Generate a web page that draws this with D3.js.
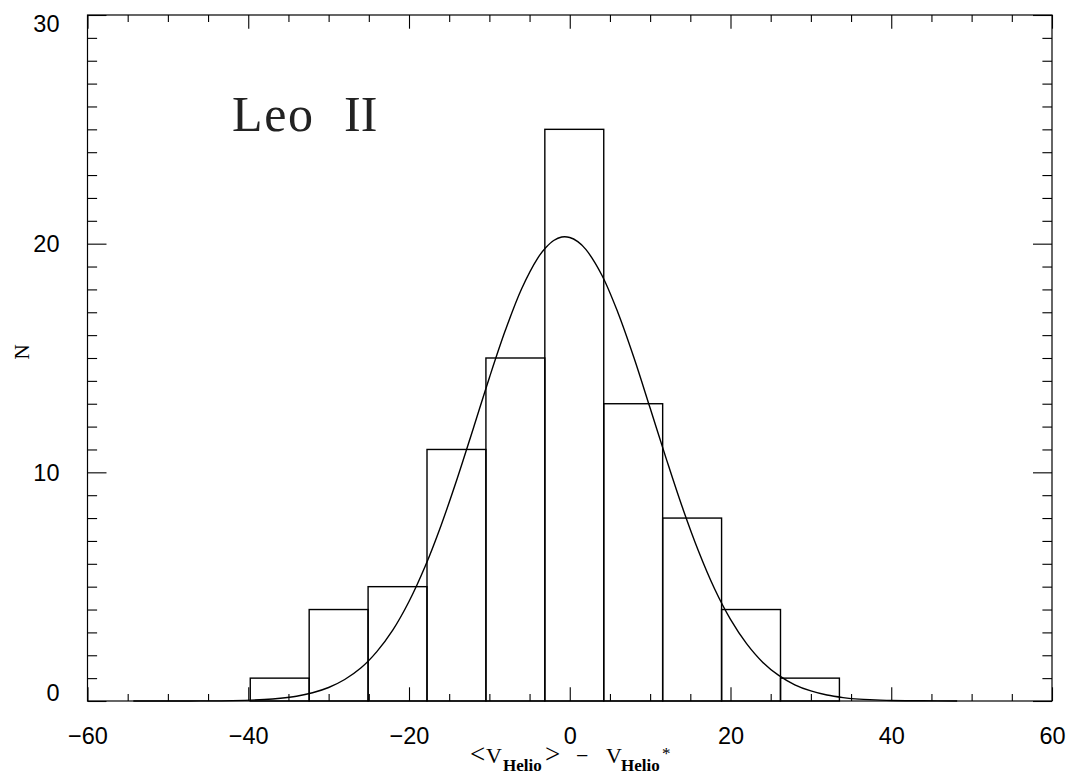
<!DOCTYPE html>
<html>
<head>
<meta charset="utf-8">
<script src="https://cdn.jsdelivr.net/npm/d3@7"></script>
<style>
  html, body { margin: 0; padding: 0; background: #fff; }
  svg { display: block; }
</style>
</head>
<body>
<div id="chart"></div>
<script>
// ---- Data ----
const binEdges = [-39.75, -32.42, -25.09, -17.76, -10.43, -3.10, 4.23, 11.56, 18.89, 26.22, 33.55];
const binCounts = [1, 4, 5, 11, 15, 25, 13, 8, 4, 1];

const fitX = [-54.3, -50, -46, -42, -38, -36, -34, -32, -30, -28, -26, -24, -22, -20, -18, -16, -14, -12, -10, -8, -6, -4, -3, -2, -1, 0, 1, 2, 4, 6, 8, 10, 12, 14, 16, 18, 20, 22, 24, 26, 28, 30, 32, 34, 36, 38, 40, 44, 48.2];
const fitN = [0.00, 0.00, 0.004, 0.018, 0.066, 0.12, 0.21, 0.36, 0.59, 0.94, 1.44, 2.16, 3.11, 4.35, 5.88, 7.69, 9.73, 11.92, 14.14, 16.22, 18.02, 19.36, 19.82, 20.14, 20.29, 20.27, 20.09, 19.75, 18.62, 16.98, 15.00, 12.81, 10.60, 8.48, 6.57, 4.92, 3.57, 2.51, 1.70, 1.12, 0.71, 0.44, 0.26, 0.15, 0.08, 0.05, 0.02, 0.01, 0.00];

const xMajorTicks = [-60, -40, -20, 0, 20, 40, 60];
const xTickLabels = ["\u221260", "\u221240", "\u221220", "0", "20", "40", "60"];
const yMajorTicks = [0, 10, 20, 30];
const yTickLabels = ["0", "10", "20", "30"];
const xDomain = [-60, 60];
const yDomain = [0, 30];
const titleWords = ["Leo", "II"];
const yLabel = "N";

// ---- Layout ----
const W = 1070, H = 776;
const L = 87.5, R = 1052, T = 15, B = 701;

const svg = d3.select("#chart").append("svg")
  .attr("width", W).attr("height", H)
  .style("background", "#fff");

const x = d3.scaleLinear().domain(xDomain).range([L, R]);
const y = d3.scaleLinear().domain(yDomain).range([B, T]);

const tickFont = "'Liberation Sans', 'DejaVu Sans', sans-serif";
const serifFont = "'Liberation Serif', 'DejaVu Serif', serif";

// Frame
svg.append("rect")
  .attr("x", L).attr("y", T).attr("width", R - L).attr("height", B - T)
  .attr("fill", "none").attr("stroke", "#000").attr("stroke-width", 1.2);

// Histogram bars
const bars = binCounts.map((c, i) => ({x0: binEdges[i], x1: binEdges[i + 1], n: c}));
svg.append("g").selectAll("rect").data(bars).join("rect")
  .attr("x", d => x(d.x0))
  .attr("y", d => y(d.n))
  .attr("width", d => x(d.x1) - x(d.x0))
  .attr("height", d => y(0) - y(d.n))
  .attr("fill", "none")
  .attr("stroke", "#000")
  .attr("stroke-width", 1.4);

// Gaussian fit curve
const fitPts = fitX.map((v, i) => [v, fitN[i]]);
svg.append("path")
  .datum(fitPts)
  .attr("d", d3.line().x(d => x(d[0])).y(d => y(d[1])).curve(d3.curveCatmullRom.alpha(0.5)))
  .attr("fill", "none")
  .attr("stroke", "#000")
  .attr("stroke-width", 1.4);

// Axes with ticks (IDL style: ticks inside on all four sides)
const xMinor = d3.range(xDomain[0], xDomain[1] + 0.001, 5).filter(v => !xMajorTicks.includes(v));
const yMinor = d3.range(yDomain[0], yDomain[1] + 0.001, 1).filter(v => !yMajorTicks.includes(v));

const xMajLen = 13.7, xMinLen = 6.9, yMajLen = 19, yMinLen = 9.6;

// bottom axis
const axB = d3.axisBottom(x).tickValues(xMajorTicks).tickSizeInner(-xMajLen).tickSizeOuter(0)
  .tickFormat((d, i) => xTickLabels[i]).tickPadding(xMajLen + 13);
const gB = svg.append("g").attr("transform", `translate(0,${B})`).call(axB);
gB.select(".domain").remove();
gB.selectAll("text").attr("font-family", tickFont).attr("font-size", 23.5).attr("fill", "#000");
gB.append("g").call(d3.axisBottom(x).tickValues(xMinor).tickSizeInner(-xMinLen).tickSizeOuter(0).tickFormat(""))
  .select(".domain").remove();

// top axis
const gT = svg.append("g").attr("transform", `translate(0,${T})`)
  .call(d3.axisTop(x).tickValues(xMajorTicks).tickSizeInner(-xMajLen).tickSizeOuter(0).tickFormat(""));
gT.select(".domain").remove();
gT.append("g").call(d3.axisTop(x).tickValues(xMinor).tickSizeInner(-xMinLen).tickSizeOuter(0).tickFormat(""))
  .select(".domain").remove();

// left axis
const axL = d3.axisLeft(y).tickValues(yMajorTicks).tickSizeInner(-yMajLen).tickSizeOuter(0)
  .tickFormat((d, i) => yTickLabels[i]).tickPadding(yMajLen + 9);
const gL = svg.append("g").attr("transform", `translate(${L},0)`).call(axL);
gL.select(".domain").remove();
gL.selectAll("text").attr("font-family", tickFont).attr("font-size", 23.5).attr("fill", "#000")
  .attr("dy", d => d === yDomain[0] ? "-0.02em" : (d === yDomain[1] ? "0.70em" : "0.34em"));
gL.append("g").call(d3.axisLeft(y).tickValues(yMinor).tickSizeInner(-yMinLen).tickSizeOuter(0).tickFormat(""))
  .select(".domain").remove();

// right axis
const gR = svg.append("g").attr("transform", `translate(${R},0)`)
  .call(d3.axisRight(y).tickValues(yMajorTicks).tickSizeInner(-yMajLen).tickSizeOuter(0).tickFormat(""));
gR.select(".domain").remove();
gR.append("g").call(d3.axisRight(y).tickValues(yMinor).tickSizeInner(-yMinLen).tickSizeOuter(0).tickFormat(""))
  .select(".domain").remove();

svg.selectAll(".tick line").attr("stroke", "#000").attr("stroke-width", 1.1);

// Title
const tt = svg.append("text")
  .attr("y", 131)
  .attr("font-family", serifFont).attr("font-size", 50)
  .attr("fill", "#222");
tt.append("tspan").attr("x", 232).attr("textLength", 81).attr("lengthAdjust", "spacing").text(titleWords[0]);
tt.append("tspan").attr("x", 344).text(titleWords[1]);

// Y label
svg.append("text")
  .attr("transform", "translate(29,352) rotate(-90)")
  .attr("text-anchor", "middle")
  .attr("font-family", serifFont).attr("font-size", 21)
  .attr("fill", "#000")
  .text(yLabel);

// X label: <V_Helio> − V_Helio*
const lab = svg.append("g").attr("font-family", serifFont).attr("fill", "#000");
lab.append("text").attr("x", 470).attr("y", 763).attr("font-size", 27).text("<");
lab.append("text").attr("x", 486).attr("y", 763).attr("font-size", 22).text("V");
lab.append("text").attr("x", 503).attr("y", 771).attr("font-size", 17).attr("font-weight", "bold").text("Helio");
lab.append("text").attr("x", 545).attr("y", 763).attr("font-size", 27).text(">");
lab.append("text").attr("x", 576).attr("y", 763).attr("font-size", 22).text("\u2212");
lab.append("text").attr("x", 606).attr("y", 763).attr("font-size", 22).text("V");
lab.append("text").attr("x", 621).attr("y", 771).attr("font-size", 17).attr("font-weight", "bold").text("Helio");
lab.append("text").attr("x", 662).attr("y", 759).attr("font-size", 17).text("*");
</script>
</body>
</html>
